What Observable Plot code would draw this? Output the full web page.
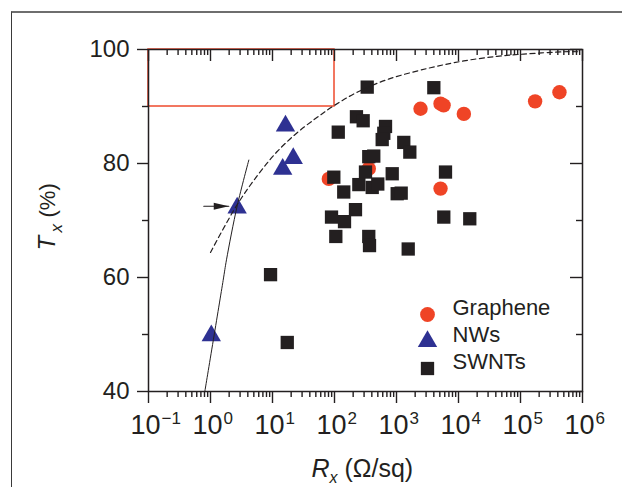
<!DOCTYPE html>
<html><head><meta charset="utf-8">
<script src="https://cdn.jsdelivr.net/npm/d3@7"></script>
<script src="https://cdn.jsdelivr.net/npm/@observablehq/plot@0.6"></script>
<style>
html,body{margin:0;padding:0;background:#fff;}
#wrap{position:relative;width:622px;height:487px;overflow:hidden;}
#border{position:absolute;left:11px;top:11px;right:-5px;bottom:-5px;border-top:2px solid #6e6e6e;border-left:1.5px solid #3a3a3a;pointer-events:none;}
#ticks{position:absolute;left:0;top:0;width:622px;height:487px;pointer-events:none;}
</style></head><body>
<div id="wrap"><div id="border"></div><div id="ticks"></div></div>
<script>
// Graphene (red circles)
const grapheneR = [81, 357, 2440, 5130, 5750, 12200, 5130, 172000, 425000];
const grapheneT = [77.3, 79.1, 89.6, 90.5, 90.2, 88.7, 75.6, 90.9, 92.5];
// Nanowires (blue triangles)
const nwR = [16.2, 21.6, 14.6, 2.69, 1.03];
const nwT = [86.6, 80.9, 79.0, 72.2, 49.8];
// SWNTs (black squares)
const swntR = [337, 4000, 226, 290, 115, 665, 624, 588, 1310, 1640, 357, 430, 316, 853, 97.5, 6170, 247, 406, 499, 141, 1026, 1190, 218, 89.5, 145, 105, 357, 367, 1545, 5790, 15200, 9.3, 17.3];
const swntT = [93.4, 93.3, 88.2, 87.5, 85.5, 86.5, 85.3, 84.2, 83.7, 82.0, 81.2, 81.3, 78.5, 78.2, 77.6, 78.5, 76.3, 75.8, 76.4, 75.0, 74.7, 74.8, 71.9, 70.6, 69.8, 67.2, 67.2, 65.6, 65.0, 70.6, 70.3, 60.5, 48.6];
// dashed curve
const curveR = [1.0, 2.7, 6.0, 11.9, 25, 52.6, 100, 232, 743, 3530, 12200, 42000, 113000, 500000, 930000];
const curveT = [64.4, 72.8, 78.2, 82.1, 85.4, 88.1, 90.2, 92.5, 94.8, 96.8, 98.0, 98.8, 99.2, 99.6, 99.6];
// solid line
const lineR = [0.81, 1.60, 1.81, 2.70, 4.15];
const lineT = [40, 59.5, 63.1, 72.6, 80.6];
// arrow
const arrowR = [0.78, 1.97];
const arrowT = [72.5, 72.5];
// red target box
const boxR = [0.1, 100];
const boxT = [90, 100];
// ticks
const xMajor = [0.1, 1, 10, 100, 1000, 10000, 100000, 1000000];
const xExp = ["\u22121", "0", "1", "2", "3", "4", "5", "6"];
const yMajor = [40, 60, 80, 100];
const yLabels = ["40", "60", "80", "100"];
const yMinor = [50, 70, 90];
const xMinor = [];
for (let k = 0; k < xMajor.length - 1; k++) for (let m = 2; m <= 9; m++) xMinor.push(+(xMajor[k] * m).toPrecision(3));
// legend
const legendNames = ["Graphene", "NWs", "SWNTs"];
const legendSymbols = ["circle", "triangle", "square"];
const legendColors = ["#ef4426", "#2e3192", "#231f20"];
const legendR = [7.4, 7.2, 7.5];

const ink = "#231f20";
const W = 622, H = 487, ML = 148, MR = 40, MT = 49, MB = 96;
const FW = W - ML - MR, FH = H - MT - MB;
const arrowHead = {draw(ctx) { ctx.moveTo(0, 0); ctx.lineTo(-15, -3.6); ctx.lineTo(-15, 3.6); ctx.closePath(); }};
const scales = {
  width: W, height: H,
  marginLeft: ML, marginRight: MR, marginTop: MT, marginBottom: MB,
  x: {type: "log", domain: [0.1, 1e6], axis: null},
  y: {domain: [40, 100], axis: null}
};

const legendMarks = [];
legendNames.forEach((name, i) => {
  legendMarks.push(Plot.dot([name], {frameAnchor: "bottom-right", dx: -155, dy: -77 + i * 27, symbol: legendSymbols[i], fill: legendColors[i], r: legendR[i]}));
  legendMarks.push(Plot.text([name], {text: d => d, frameAnchor: "bottom-right", dx: -130, dy: -77 + i * 27, textAnchor: "start", fontSize: 22, fill: ink}));
});

const chart = Plot.plot({
  ...scales,
  style: {fontFamily: "'Liberation Sans', Arial, Helvetica, sans-serif", color: ink, background: "white"},
  marks: [
    Plot.rect([0], {x1: () => boxR[0], x2: () => boxR[1], y1: () => boxT[0], y2: () => boxT[1], fill: "none", stroke: "#ee4a2c", strokeWidth: 1.5}),
    Plot.text(yMajor, {y: d => d, frameAnchor: "left", text: (d, i) => yLabels[i], textAnchor: "end", dx: -19, fontSize: 24, fill: ink}),
    Plot.text(xMajor, {x: d => d, frameAnchor: "bottom", text: () => "10", textAnchor: "end", lineAnchor: "bottom", dx: 12, dy: 42, fontSize: 27, fill: ink}),
    Plot.text(xMajor, {x: d => d, frameAnchor: "bottom", text: (d, i) => xExp[i], textAnchor: "start", lineAnchor: "bottom", dx: 13, dy: 32, fontSize: 17, fill: ink}),
    Plot.dot(grapheneR, {x: d => d, y: (d, i) => grapheneT[i], r: 7.2, fill: "#ef4426", symbol: "circle"}),
    Plot.dot(nwR, {x: d => d, y: (d, i) => nwT[i], r: 7.2, fill: "#2e3192", symbol: "triangle"}),
    Plot.dot(swntR, {x: d => d, y: (d, i) => swntT[i], r: 7.5, fill: ink, symbol: "square"}),
    Plot.line(curveR, {x: d => d, y: (d, i) => curveT[i], curve: "catmull-rom", stroke: ink, strokeWidth: 1.2, strokeDasharray: "5,3.5"}),
    Plot.line(lineR, {x: d => d, y: (d, i) => lineT[i], curve: "catmull-rom", stroke: ink, strokeWidth: 1}),
    Plot.line(arrowR, {x: d => d, y: (d, i) => arrowT[i], stroke: ink, strokeWidth: 1.2}),
    Plot.dot([arrowR[1]], {x: d => d, y: () => arrowT[1], symbol: arrowHead, fill: ink, stroke: "none"}),
    ...legendMarks,
    Plot.text(["R"], {text: d => d, frameAnchor: "bottom", textAnchor: "start", lineAnchor: "bottom", dx: -54, dy: 85, fontSize: 25, fontStyle: "italic", fill: ink}),
    Plot.text(["x"], {text: d => d, frameAnchor: "bottom", textAnchor: "start", lineAnchor: "bottom", dx: -36, dy: 91, fontSize: 16, fontStyle: "italic", fill: ink}),
    Plot.text(["(\u03a9/sq)"], {text: d => d, frameAnchor: "bottom", textAnchor: "start", lineAnchor: "bottom", dx: -21, dy: 85, fontSize: 25, fill: ink}),
    Plot.text(["T"], {text: d => d, frameAnchor: "left", rotate: -90, textAnchor: "start", lineAnchor: "bottom", dx: -94, dy: 30, fontSize: 24, fontStyle: "italic", fill: ink}),
    Plot.text(["x"], {text: d => d, frameAnchor: "left", rotate: -90, textAnchor: "start", lineAnchor: "bottom", dx: -87, dy: 12, fontSize: 17, fontStyle: "italic", fill: ink}),
    Plot.text(["(%)"], {text: d => d, frameAnchor: "left", rotate: -90, textAnchor: "start", lineAnchor: "bottom", dx: -94, dy: -3, fontSize: 22, fill: ink})
  ]
});
document.getElementById("wrap").prepend(chart);

// Axis ticks and frame on a transparent overlay layer with the same scales
const tk = {stroke: ink, strokeWidth: 1.4};
const xt = (vals, insetTop, insetBottom) => Plot.tickX(vals, {x: d => d, insetTop, insetBottom, ...tk});
const yt = (vals, insetLeft, insetRight) => Plot.tickY(vals, {y: d => d, insetLeft, insetRight, ...tk});
const tickLayer = Plot.plot({
  ...scales,
  style: {background: "transparent", color: ink},
  marks: [
    xt(xMajor, FH, -12), xt(xMinor, FH, -6),
    yt(yMajor, -11, FW), yt(yMinor, -6, FW),
    xt(xMajor, 0, FH - 12), xt(xMinor, 0, FH - 6),
    yt(yMajor, FW - 12, 0), yt(yMinor, FW - 6, 0),
    Plot.frame({stroke: ink, strokeWidth: 1.5})
  ]
});
tickLayer.style.background = "transparent";
document.getElementById("ticks").append(tickLayer);
</script>
</body></html>
